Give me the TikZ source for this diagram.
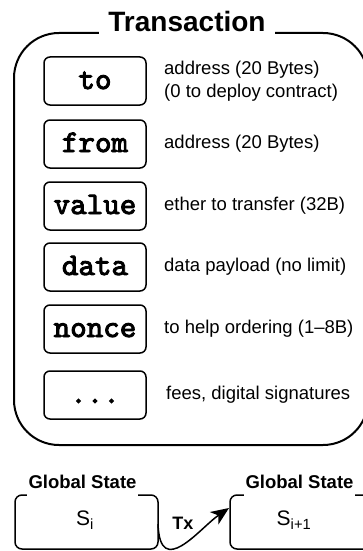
\documentclass[tikz,border=0pt]{standalone}
\usepackage{fontspec}
\setmainfont{Liberation Sans}
\newfontfamily\monob{lmmono10-regular.otf}[FakeBold=3]
\usetikzlibrary{arrows.meta}
\tikzset{
  field/.style={draw, line width=1.5pt, rounded corners=6pt, minimum width=102pt, minimum height=48pt,
    inner sep=0pt, font=\fontsize{31.5}{32}\monob\bfseries, text height=16pt, text depth=0pt},
  desc/.style={anchor=west, inner sep=0pt, align=left, font=\fontsize{18.5}{23}\selectfont},
  statebox/.style={draw, line width=1.5pt, rounded corners=7pt},
  boxlabel/.style={fill=white, inner xsep=2pt, inner ysep=1pt, anchor=base, text depth=9pt,
    font=\fontsize{18.5}{20}\selectfont\bfseries},
  title/.style={fill=white, inner xsep=9.5pt, inner ysep=1pt, anchor=base, text depth=5pt,
    font=\fontsize{28}{30}\selectfont\bfseries},
  stext/.style={inner sep=0pt, font=\fontsize{21}{22}\selectfont}
}
\begin{document}
\begin{tikzpicture}[x=1pt, y=-1pt]
\clip (0,0) rectangle (363,551);
\fill[white] (0,0) rectangle (363,551);
% main transaction box
\draw[line width=2pt, rounded corners=45pt] (14,33) rectangle (368,445);
\node[title] (ttl) at (187,32) {Transaction};
% fields
\node[field] (to) at (95,81) {to};
\node[field] (from) at (95,144) {from};
\node[field] (value) at (95,206) {value};
\node[field] (data) at (95,267) {data};
\node[field] (nonce) at (95,329) {nonce};
\node[field] (more) at (95,395) {...};
% descriptions
\node[desc] (dto) at (164,81) {address (20 Bytes)\\(0 to deploy contract)};
\node[desc] (dfrom) at (164,144) {address (20 Bytes)};
\node[desc] (dvalue) at (164,206) {ether to transfer (32B)};
\node[desc] (ddata) at (164,267) {data payload (no limit)};
\node[desc] (dnonce) at (164,329) {to help ordering (1–8B)};
\node[desc] (dmore) at (166,395) {fees, digital signatures};
% global states
\draw[statebox] (15,495) rectangle (158,549);
\coordinate (lbox) at (85,520);
\coordinate (lboxe) at (158,524);
\node[boxlabel] (lgs) at (82.5,488) {Global State};
\node[stext] (si) at (lbox) {S\textsubscript{i}};
\draw[statebox] (230,495) rectangle (373,549);
\coordinate (rbox) at (294,520);
\node[boxlabel] (rgs) at (299.5,488) {Global State};
\node[stext] (si1) at (rbox) {S\textsubscript{i+1}};
\coordinate (tip) at (229,508);
\node[inner sep=0pt, font=\fontsize{18}{20}\selectfont\bfseries] (tx) at (183,523) {Tx};
\draw[line width=1.5pt, -{Stealth[length=18pt,width=15pt,inset=5pt]}] (lboxe) .. controls (160,580) and (200,528) .. (tip);
\end{tikzpicture}
\end{document}
